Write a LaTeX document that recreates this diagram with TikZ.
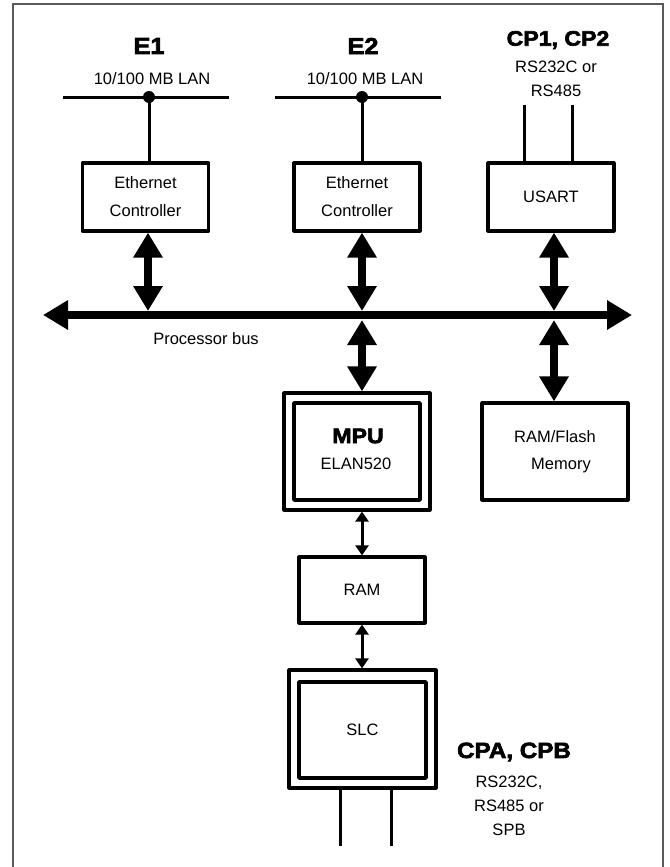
\documentclass[tikz,border=0pt]{standalone}
\usepackage{fontspec}
\setmainfont{Liberation Sans}
\newfontfamily\heavyfont{Liberation Sans}[BoldFeatures={FakeBold=3,FakeStretch=1.1}]
\usetikzlibrary{arrows.meta}
\tikzset{
  blk/.style={draw,line width=3.2pt,line join=round,inner sep=0pt,minimum width=126pt,minimum height=68pt,align=center,font=\fontsize{16.5}{28}\selectfont},
  lbl/.style={inner sep=0pt,align=center,font=\fontsize{16.5}{24}\selectfont},
  hdr/.style={inner sep=0pt,font=\fontsize{21}{24}\heavyfont\bfseries},
  busarrow/.style={line width=8.5pt,{Triangle[width=28pt,length=25pt]}-{Triangle[width=28pt,length=25pt]}},
  thinarrow/.style={line width=3pt,{Triangle[width=13pt,length=10pt]}-{Triangle[width=13pt,length=10pt]}},
  wire/.style={line width=3pt}
}

\begin{document}
\begin{tikzpicture}[x=1pt,y=-1pt]
    \useasboundingbox (0,0) rectangle (669,867);
    \draw[line width=2pt,black!65] (12.5,867) -- (12.5,4) -- (663,4) -- (663,867);

    % headers
    \node[hdr,font=\fontsize{23}{24}\heavyfont\bfseries] (e1) at (149,46) {E1};
    \node[hdr,font=\fontsize{23}{24}\heavyfont\bfseries] (e2) at (363,46) {E2};
    \node[hdr] (cp) at (558,40) {CP1, CP2};
    \node[lbl] (lan1) at (152,79) {10/100 MB LAN};
    \node[lbl] (lan2) at (365,79) {10/100 MB LAN};
    \node[lbl] (cpif) at (556,79) {RS232C or\\RS485};

    % blocks
    \node[blk] (eth1) at (145.5,197) {Ethernet\\Controller};
    \node[blk] (eth2) at (357,197) {Ethernet\\Controller};
    \node[blk] (usart) at (551,197) {USART};
    \node[blk,minimum width=146pt,minimum height=117pt] (mpuout) at (357,451.5) {};
    \node[blk,line width=3.5pt,minimum width=126pt,minimum height=97pt] (mpu) at (357,451.5) {};
    \node[hdr] (mputxt) at (358,436) {MPU};
    \node[lbl] (elan) at (356,464) {ELAN520};
    \node[blk,minimum width=146pt,minimum height=97pt,font=\fontsize{16.5}{27}\selectfont] (flash) at (555,451.5) {RAM/Flash\\\hspace*{12pt}Memory};
    \node[blk,minimum height=66pt] (ram) at (362,590) {RAM};
    \node[blk,minimum width=147pt,minimum height=118pt] (slcout) at (362.5,729) {};
    \node[blk,line width=3.5pt,minimum width=127pt,minimum height=96pt] (slc) at (362.5,730) {SLC};
    \node[hdr,font=\fontsize{22}{24}\heavyfont\bfseries] (cpa) at (514,752) {CPA, CPB};
    \node[lbl] (cpaif) at (509,806) {RS232C,\\RS485 or\\SPB};

    % lan taps
    \coordinate (lan1w) at (63,97);  \coordinate (lan1e) at (229,97);
    \coordinate (lan2w) at (275,97); \coordinate (lan2e) at (441,97);
    \draw[wire] (lan1w) -- (lan1e);
    \draw[wire] (lan2w) -- (lan2e);
    \node[circle,fill,inner sep=0pt,minimum size=12pt] (tap1) at (149,97) {};
    \node[circle,fill,inner sep=0pt,minimum size=12pt] (tap2) at (362,97) {};
    \draw[wire] (tap1.center) -- (tap1 |- eth1.north);
    \draw[wire] (tap2.center) -- (tap2 |- eth2.north);
    \coordinate (cpa1) at (524,105); \coordinate (cpa2) at (572,105);
    \foreach \p in {cpa1,cpa2}
      \draw[wire] (\p) -- (\p |- usart.north);

    % processor bus
    \coordinate (busw) at (43,315); \coordinate (buse) at (632,315);
    \draw[busarrow] (busw) -- (buse);
    \node[lbl] (busname) at (206,339) {Processor bus};
    \coordinate (j1) at (148,315); \coordinate (j2) at (362,315); \coordinate (j3) at (554,315);
    \draw[busarrow] (j1 |- eth1.south) -- ([yshift=4pt]j1);
    \draw[busarrow] (j2 |- eth2.south) -- ([yshift=4pt]j2);
    \draw[busarrow] (j3 |- usart.south) -- ([yshift=4pt]j3);
    \draw[busarrow] ([yshift=-5pt]j2) -- (j2 |- mpuout.north);
    \draw[busarrow] ([yshift=-5pt]j3) -- (j3 |- flash.north);

    % local links
    \draw[thinarrow] (ram.north |- mpuout.south) -- (ram.north);
    \draw[thinarrow] (ram.south) -- (ram.south |- slcout.north);
    \coordinate (slc1) at (340,846); \coordinate (slc2) at (391,846);
    \foreach \p in {slc1,slc2}
      \draw[wire] (\p |- slcout.south) -- (\p);
\end{tikzpicture}
\end{document}
